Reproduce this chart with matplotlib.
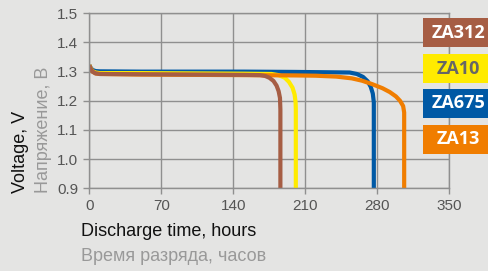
import matplotlib.pyplot as plt
from matplotlib.patches import Rectangle

# discharge curves (hours, volts)
za312_h = [0, 1, 3, 6, 10, 50, 100, 150, 166, 171, 175, 179, 182, 184, 185.3, 185.7, 185.7]
za312_v = [1.322, 1.312, 1.300, 1.294, 1.292, 1.291, 1.290, 1.289, 1.288, 1.285, 1.279, 1.268, 1.252, 1.233, 1.210, 1.170, 0.85]

za10_h = [0, 1, 3, 6, 10, 50, 100, 150, 177, 184, 190, 194, 197.5, 199.5, 200.5, 200.7, 200.7]
za10_v = [1.322, 1.313, 1.302, 1.297, 1.295, 1.295, 1.294, 1.293, 1.292, 1.288, 1.279, 1.265, 1.245, 1.222, 1.195, 1.170, 0.85]

za675_h = [0, 1, 3, 6, 10, 50, 100, 150, 200, 253, 260, 266, 270.5, 273.5, 275.5, 276.5, 276.5]
za675_v = [1.322, 1.315, 1.306, 1.302, 1.301, 1.300, 1.300, 1.300, 1.299, 1.297, 1.292, 1.282, 1.267, 1.248, 1.225, 1.195, 0.85]

za13_h = [0, 1, 3, 6, 10, 50, 100, 150, 200, 220, 240, 255, 265, 275, 285, 292, 298, 302, 305, 306, 306]
za13_v = [1.322, 1.312, 1.301, 1.294, 1.292, 1.290, 1.289, 1.288, 1.287, 1.286, 1.283, 1.277, 1.269, 1.257, 1.243, 1.230, 1.215, 1.200, 1.182, 1.160, 0.85]

names = ['ZA312', 'ZA10', 'ZA675', 'ZA13']
colors = ['#a65d44', '#ffeb00', '#0059a5', '#f07d00']
text_colors = ['white', '#666666', 'white', 'white']

x_ticks = [0, 70, 140, 210, 280, 350]
y_ticks = [0.9, 1.0, 1.1, 1.2, 1.3, 1.4, 1.5]

bg = '#e4e4e3'
grid_c = '#8f8f8f'

plt.rcParams['font.family'] = ['Liberation Sans', 'DejaVu Sans']

fig = plt.figure(figsize=(4.88, 2.71), dpi=100, facecolor=bg)
ax = fig.add_axes([0.183, 0.305, 0.738, 0.646])
ax.set_facecolor(bg)

ax.plot(za675_h, za675_v, color=colors[2], lw=3, solid_capstyle='butt', solid_joinstyle='round')
ax.plot(za10_h, za10_v, color=colors[1], lw=3, solid_capstyle='butt', solid_joinstyle='round')
ax.plot(za13_h, za13_v, color=colors[3], lw=3, solid_capstyle='butt', solid_joinstyle='round')
ax.plot(za312_h, za312_v, color=colors[0], lw=3, solid_capstyle='butt', solid_joinstyle='round')

ax.set_xlim(0, 350)
ax.set_ylim(0.9, 1.5)
ax.set_xticks(x_ticks)
ax.set_yticks(y_ticks)
ax.set_xticklabels([str(t) for t in x_ticks])
ax.set_yticklabels(['%.1f' % t for t in y_ticks])
ax.grid(True, color=grid_c, lw=1)
ax.set_axisbelow(True)
for s in ax.spines.values():
    s.set_color(grid_c)
    s.set_linewidth(1)
ax.tick_params(colors=grid_c, labelcolor='#555555', labelsize=11, length=4, width=1, pad=4)

fig.text(0.041, 0.288, 'Voltage, V', rotation=90, ha='center', va='bottom', fontsize=13, color='#111111')
fig.text(0.089, 0.288, 'Напряжение, В', rotation=90, ha='center', va='bottom', fontsize=13, color='#999999')
fig.text(0.166, 0.145, 'Discharge time, hours', ha='left', va='center', fontsize=13, color='#111111')
fig.text(0.166, 0.052, 'Время разряда, часов', ha='left', va='center', fontsize=13, color='#999999')

# colored legend boxes at right
box_tops = [18, 54, 89, 125]
for name, c, tc, top in zip(names, colors, text_colors, box_tops):
    fig.patches.append(Rectangle((423 / 488, 1 - (top + 29) / 271), 0.2, 29 / 271,
                                 transform=fig.transFigure, facecolor=c, edgecolor='none', zorder=5))
    fig.text(458 / 488, 1 - (top + 14.5) / 271, name, ha='center', va='center', fontsize=13,
             fontweight='bold', family=['Open Sans', 'DejaVu Sans'], color=tc, zorder=6)

fig.savefig('out.png', dpi=100, facecolor=bg)
